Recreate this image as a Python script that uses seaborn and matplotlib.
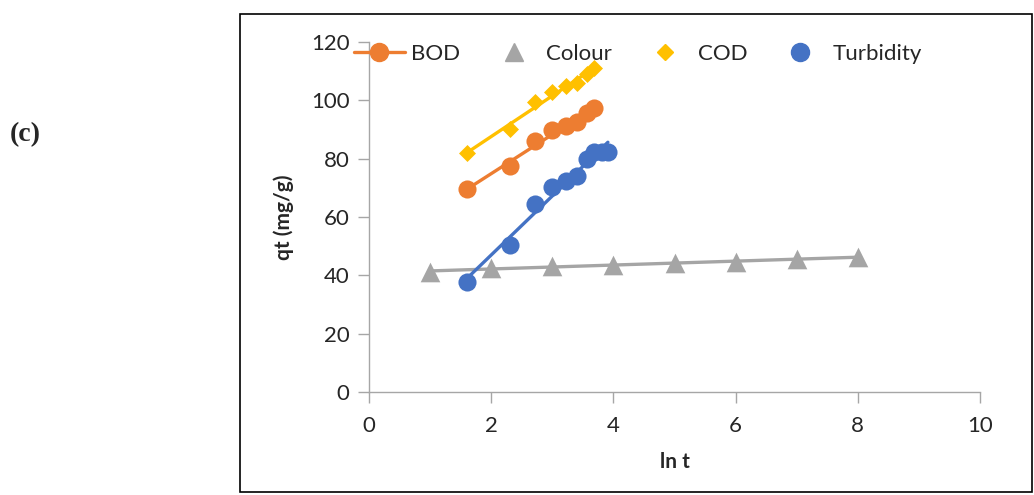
import matplotlib
matplotlib.use('Agg')
import matplotlib.pyplot as plt
from matplotlib.lines import Line2D
from matplotlib.patches import Rectangle
import numpy as np
import pandas as pd
import seaborn as sns

# ln t values
ln_t = [1.61, 2.30, 2.71, 3.00, 3.22, 3.40, 3.56, 3.69]
ln_t_turb = [1.61, 2.30, 2.71, 3.00, 3.22, 3.40, 3.56, 3.69, 3.81, 3.91]
ln_t_colour = [1, 2, 3, 4, 5, 6, 7, 8]

bod = [69.5, 77.5, 86.0, 89.7, 91.2, 92.5, 95.8, 97.3]
cod = [82.0, 90.2, 99.4, 102.8, 104.9, 105.9, 109.0, 111.0]
turbidity = [37.7, 50.5, 64.6, 70.2, 72.5, 74.2, 80.0, 82.3, 82.3, 82.3]
colour = [41.0, 42.6, 43.1, 43.6, 44.2, 44.6, 45.6, 46.2]

names = ['BOD', 'Colour', 'COD', 'Turbidity']
colors = {'BOD': '#ED7D31', 'Colour': '#A5A5A5', 'COD': '#FFC000', 'Turbidity': '#4472C4'}
markers = {'BOD': 'o', 'Colour': '^', 'COD': 'D', 'Turbidity': 'o'}
sizes = {'BOD': 170, 'Colour': 200, 'COD': 75, 'Turbidity': 170}

df = pd.concat([
    pd.DataFrame({'ln t': ln_t, 'qt': bod, 'series': 'BOD'}),
    pd.DataFrame({'ln t': ln_t_colour, 'qt': colour, 'series': 'Colour'}),
    pd.DataFrame({'ln t': ln_t, 'qt': cod, 'series': 'COD'}),
    pd.DataFrame({'ln t': ln_t_turb, 'qt': turbidity, 'series': 'Turbidity'}),
])

sns.set_style('white')
plt.rcParams['font.family'] = ['Lato', 'DejaVu Sans']

fig = plt.figure(figsize=(10.34, 4.95), dpi=100)
ax = fig.add_axes([369 / 1034, 103 / 495, 611 / 1034, 350 / 495])

# outer frame around the chart
fig.patches.append(Rectangle((240 / 1034, 3 / 495), 792 / 1034, 478 / 495,
                             transform=fig.transFigure, fill=False,
                             edgecolor='black', linewidth=1.2))

for name in names:
    sub = df[df['series'] == name]
    sns.regplot(data=sub, x='ln t', y='qt', ax=ax, ci=None, truncate=True,
                color=colors[name], marker=markers[name],
                scatter_kws={'s': sizes[name], 'alpha': 1, 'linewidths': 0, 'zorder': 3},
                line_kws={'linewidth': 2.4, 'zorder': 2})

ax.set_xlim(0, 10)
ax.set_ylim(0, 120)
ax.set_xticks([0, 2, 4, 6, 8, 10])
ax.set_yticks([0, 20, 40, 60, 80, 100, 120])
for s in ['top', 'right']:
    ax.spines[s].set_visible(False)
for s in ['left', 'bottom']:
    ax.spines[s].set_color('#A6A6A6')
    ax.spines[s].set_linewidth(1.0)
ax.tick_params(axis='both', which='major', bottom=True, left=True, length=8,
               width=1.0, color='#A6A6A6', labelsize=16, direction='out', pad=6)
ax.tick_params(axis='x', pad=9)
ax.set_xlabel('ln t', fontsize=15, fontweight='bold', labelpad=12)
ax.set_ylabel('qt (mg/g)', fontsize=15, fontweight='bold', labelpad=12)

handles = [
    Line2D([], [], color=colors['BOD'], marker='o', markersize=13, linewidth=2.4),
    Line2D([], [], color=colors['Colour'], marker='^', markersize=13, linestyle='none'),
    Line2D([], [], color=colors['COD'], marker='D', markersize=8, linestyle='none'),
    Line2D([], [], color=colors['Turbidity'], marker='o', markersize=13, linestyle='none'),
]
ax.legend(handles, names, ncol=4, loc='center', bbox_to_anchor=(0.44, 0.966),
          frameon=False, fontsize=16, handlelength=2.3, handletextpad=0.3,
          columnspacing=1.25)

fig.text(10 / 1034, 1 - 135 / 495, '(c)', fontsize=20, fontweight='bold',
         family='Liberation Serif', va='center', ha='left')

fig.savefig('out.png', dpi=100)
